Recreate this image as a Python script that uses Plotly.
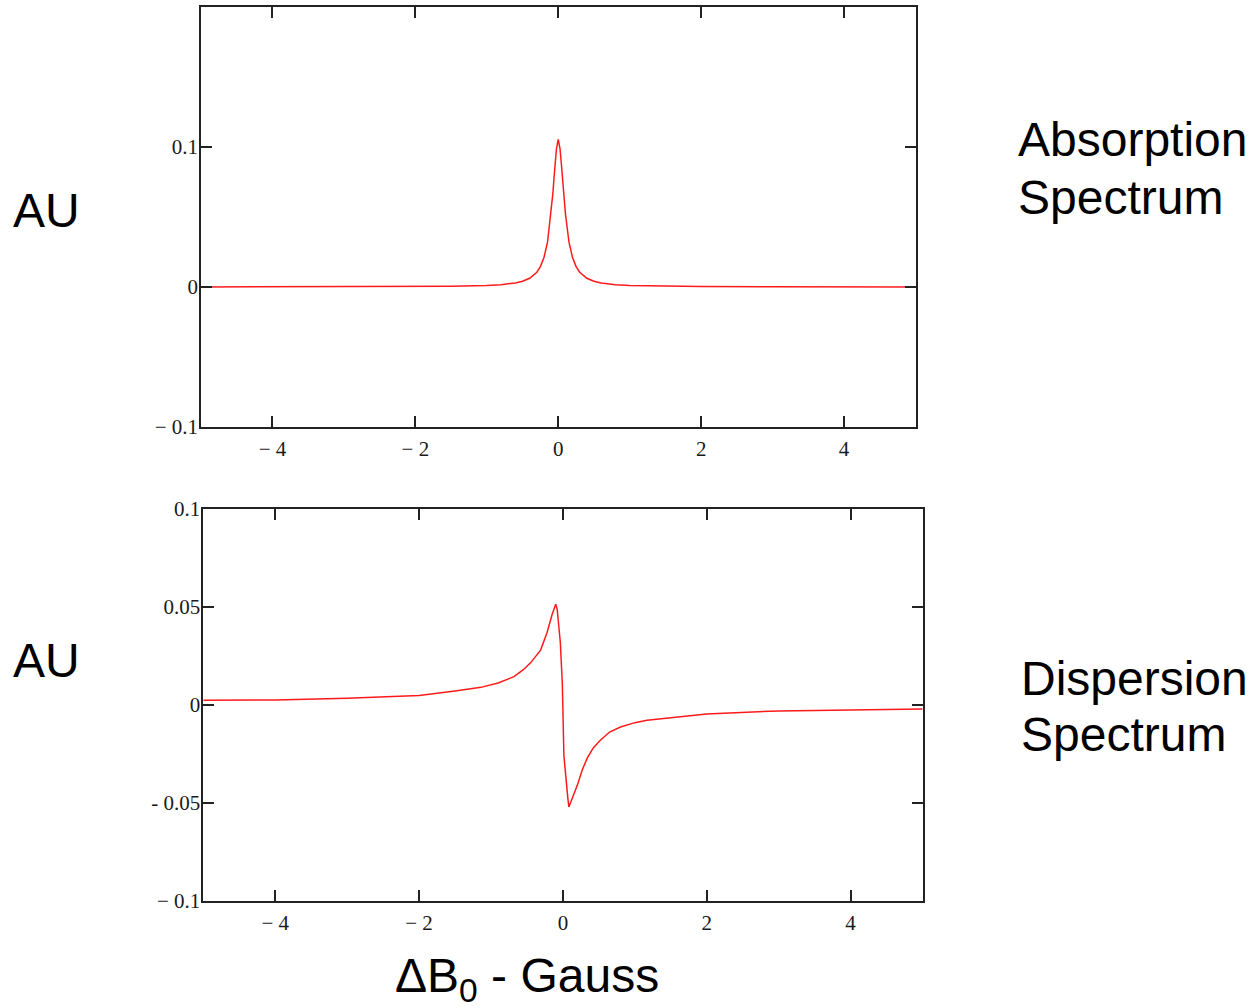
import plotly.graph_objects as go

# ---- data ----
abs_x = [-5, -4, -3, -2, -1.5, -1, -0.8, -0.6, -0.5, -0.4, -0.3, -0.25, -0.2, -0.15, -0.1,
         -0.075, -0.05, -0.025, 0, 0.025, 0.05, 0.075, 0.1, 0.15, 0.2, 0.25, 0.3, 0.4, 0.5,
         0.6, 0.8, 1, 1.5, 2, 3, 4, 5]
abs_y = [0.0, 0.0001, 0.0001, 0.0003, 0.0005, 0.0010, 0.0016, 0.0028, 0.0040, 0.0062, 0.0105,
         0.0145, 0.021, 0.032, 0.0525, 0.067, 0.084, 0.0988, 0.1056, 0.0988, 0.084, 0.067,
         0.0525, 0.032, 0.021, 0.0145, 0.0105, 0.0062, 0.0040, 0.0028, 0.0016, 0.0010,
         0.0005, 0.0003, 0.0001, 0.0001, 0.0]

disp_x = [-5, -4, -3, -2, -1.5, -1.14, -0.9, -0.68, -0.55, -0.45, -0.31, -0.22, -0.15, -0.1,
          -0.08, -0.036, -0.008, 0.014, 0.07, 0.083, 0.2, 0.27, 0.34, 0.42, 0.52, 0.65, 0.8,
          1.0, 1.17, 1.63, 2, 3, 4, 5]
disp_y = [0.0024, 0.0026, 0.0034, 0.0048, 0.0072, 0.0090, 0.0112, 0.0145, 0.0180, 0.0215,
          0.028, 0.037, 0.0462, 0.0514, 0.049, 0.032, 0.011, -0.026, -0.048, -0.052, -0.041,
          -0.033, -0.027, -0.022, -0.018, -0.0138, -0.0112, -0.0090, -0.0078, -0.0060,
          -0.0046, -0.0030, -0.0024, -0.0020]

x_ticks = [-4, -2, 0, 2, 4]
x_tick_text = ["\u2212 4", "\u2212 2", "0", "2", "4"]
top_y_ticks = [-0.1, 0, 0.1]
top_y_text = ["\u2212 0.1", "0", "0.1"]
bot_y_ticks = [-0.1, -0.05, 0, 0.05, 0.1]
bot_y_text = ["\u2212 0.1", "- 0.05", "0", "0.05", "0.1"]

W, H = 1251, 1008
RED = "#ff1a1a"
AX = "#222222"
tickfont = dict(family="Liberation Serif", size=21, color="#1a1a1a")
labfont = dict(family="Liberation Sans", size=48, color="black")

fig = go.Figure()
fig.add_trace(go.Scatter(x=abs_x, y=abs_y, mode="lines", line=dict(color=RED, width=1.5),
                         xaxis="x", yaxis="y", showlegend=False))
fig.add_trace(go.Scatter(x=disp_x, y=disp_y, mode="lines", line=dict(color=RED, width=1.5),
                         xaxis="x2", yaxis="y2", showlegend=False))

common_ax = dict(showline=True, linecolor=AX, linewidth=1.5, mirror="ticks", ticks="inside",
                 ticklen=11, tickwidth=1.5, tickcolor=AX, showgrid=False, zeroline=False,
                 tickfont=tickfont, automargin=False)

fig.update_layout(
    template="none",
    width=W, height=H, margin=dict(l=0, r=0, t=0, b=0, pad=0),
    paper_bgcolor="white", plot_bgcolor="white",
    xaxis=dict(domain=[201 / W, 915.5 / W], range=[-5, 5], anchor="y",
               tickvals=x_ticks, ticktext=x_tick_text, ticklabelstandoff=2, **common_ax),
    yaxis=dict(domain=[1 - 426.7 / H, 1 - 7.3 / H], range=[-0.1, 0.2], anchor="x",
               tickvals=top_y_ticks, ticktext=top_y_text, ticklabelstandoff=-3, **common_ax),
    xaxis2=dict(domain=[203.3 / W, 922.5 / W], range=[-5, 5], anchor="y2",
                tickvals=x_ticks, ticktext=x_tick_text, ticklabelstandoff=2, **common_ax),
    yaxis2=dict(domain=[1 - 901 / H, 1 - 509 / H], range=[-0.1, 0.1], anchor="x2",
                tickvals=bot_y_ticks, ticktext=bot_y_text, ticklabelstandoff=-3, **common_ax),
)

def note(text, x, y, xanchor="left"):
    fig.add_annotation(text=text, x=x / W, y=1 - y / H, xref="paper", yref="paper",
                       xanchor=xanchor, yanchor="middle", showarrow=False, font=labfont,
                       align="left")

note("AU", 11, 210)
note("AU", 11, 660)
note("Absorption", 1016, 140)
note("Spectrum", 1016, 198)
note("Dispersion", 1019, 678)
note("Spectrum", 1019, 734)
note("\u0394B<sub>0</sub> - Gauss", 527, 979, xanchor="center")

fig.write_html("out.html", config={"displayModeBar": False},
               post_script="document.body.style.margin='0px';")
